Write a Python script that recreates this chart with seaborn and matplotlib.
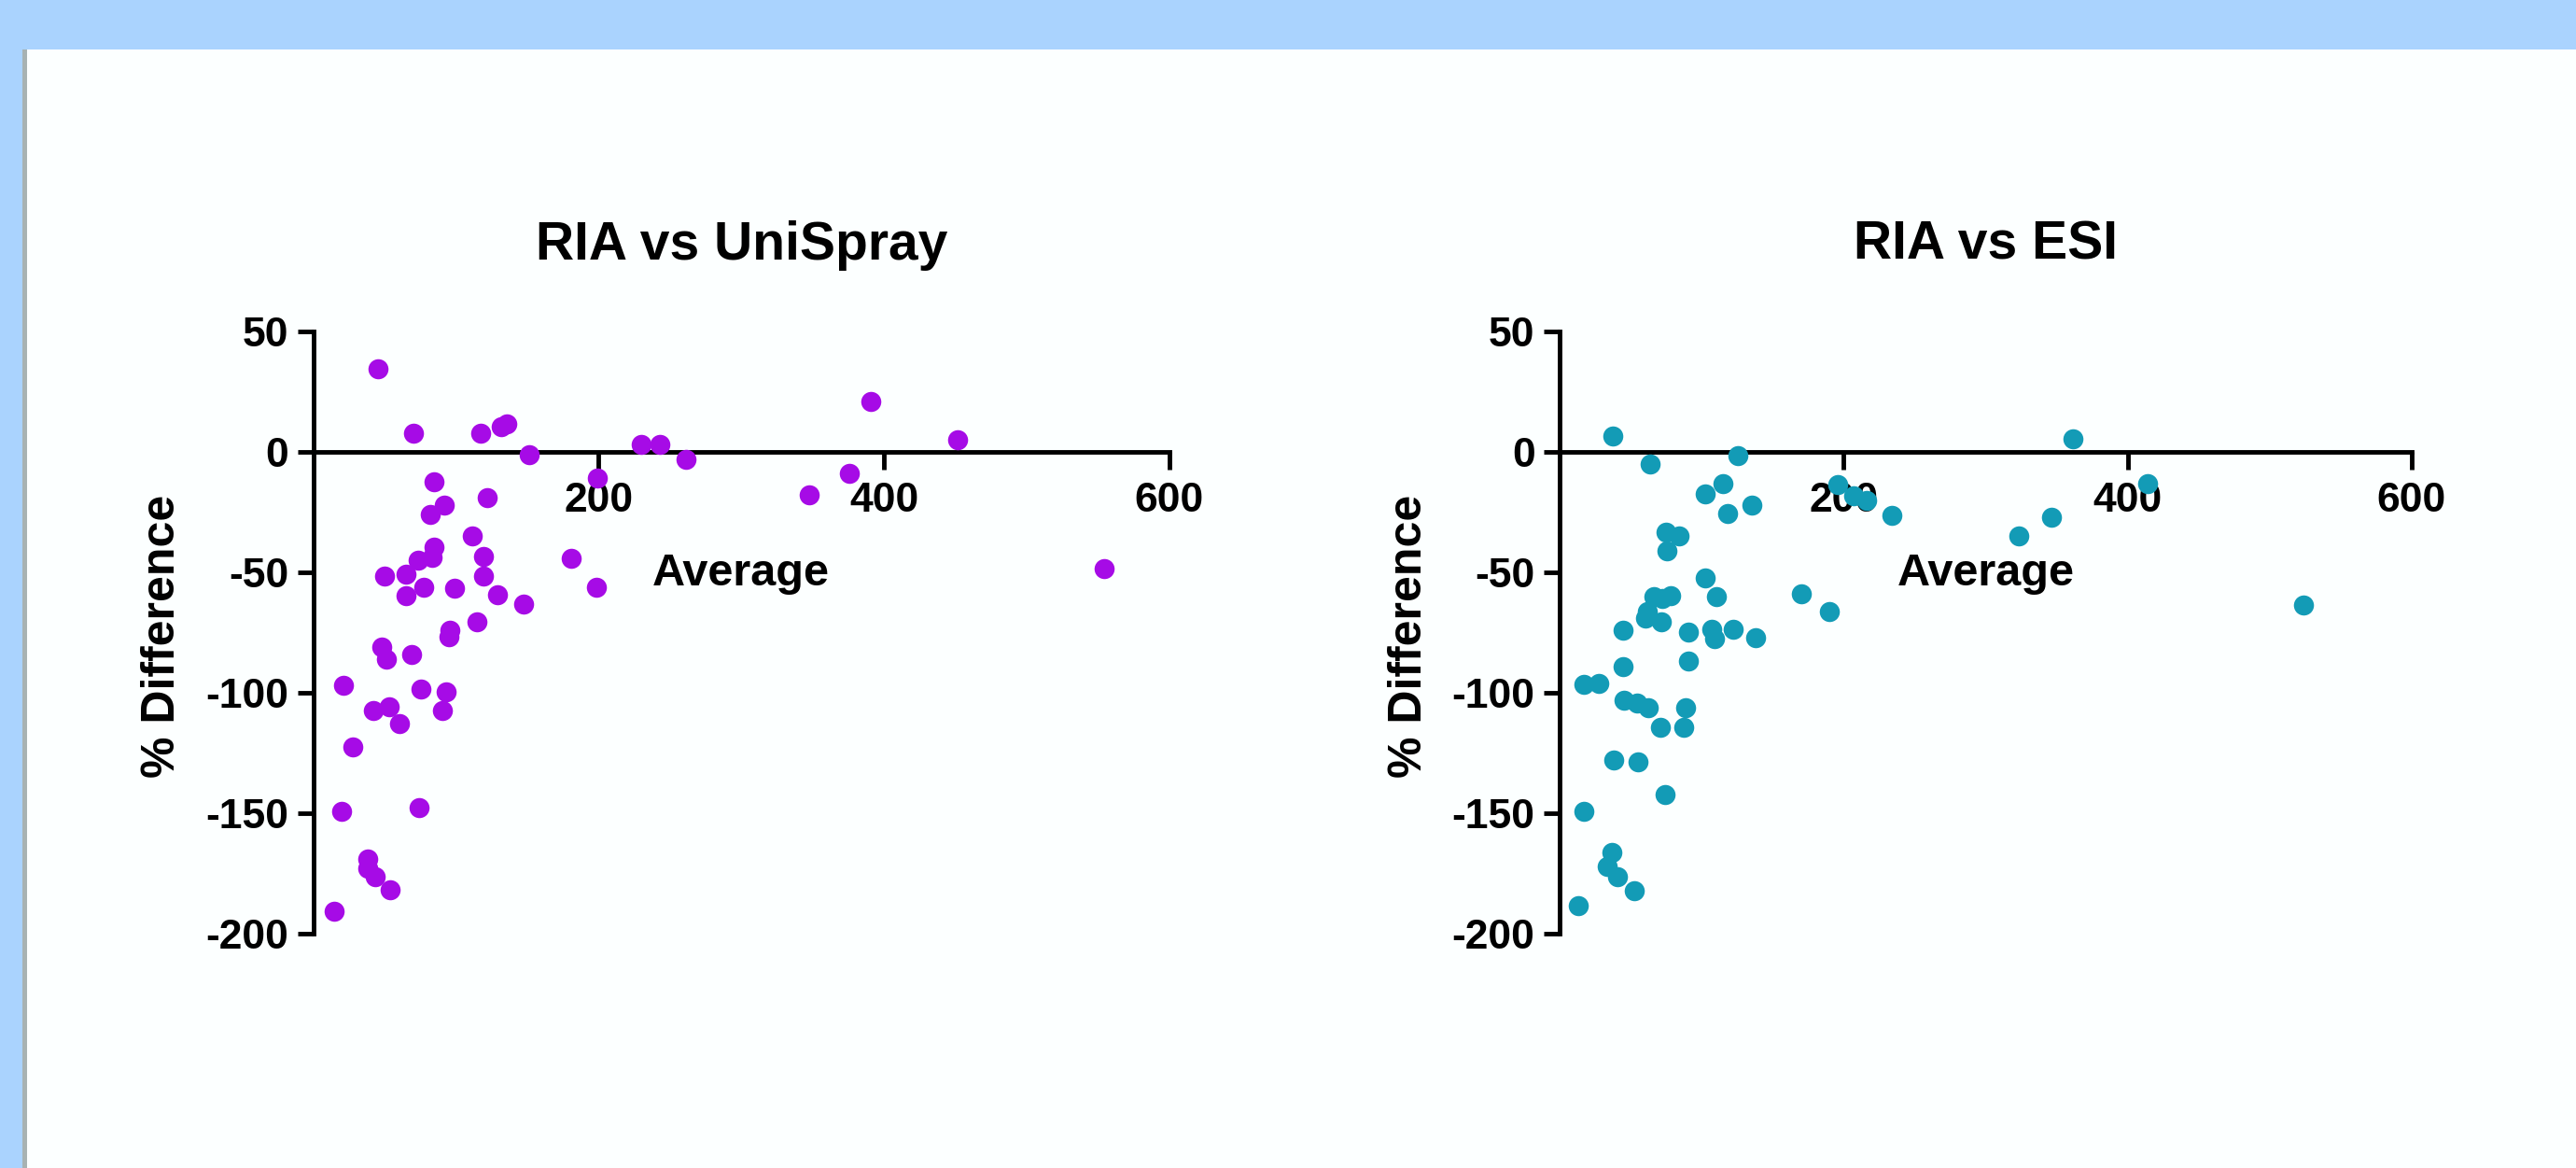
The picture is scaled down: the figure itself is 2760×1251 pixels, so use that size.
import matplotlib
matplotlib.use("Agg")
import matplotlib.pyplot as plt
import seaborn as sns
import pandas as pd
from matplotlib.patches import Rectangle

# ---------------- data ----------------
unispray_avg = [45.3, 70.1, 117.4, 131.4, 135.8, 151.2, 199.1, 230.0, 243.0, 261.3,
                390.7, 376.0, 347.4, 451.5, 554.3, 84.7, 122.0, 92.0, 82.3, 111.5,
                84.7, 83.2, 73.6, 119.1, 64.8, 50.2, 119.1, 77.4, 98.7, 64.8,
                129.0, 147.4, 181.0, 198.5, 114.5, 95.8, 94.9, 48.2, 51.1, 68.6,
                21.0, 75.3, 92.8, 42.3, 53.1, 90.5, 60.4, 27.7, 19.9, 73.9,
                38.0, 38.0, 43.2, 54.0, 14.6]
unispray_diff = [34.8, 7.8, 7.8, 10.4, 11.6, -0.9, -10.7, 3.1, 3.1, -2.9,
                 21.0, -8.7, -17.7, 5.1, -48.6, -12.5, -19.1, -22.0, -26.0, -34.7,
                 -39.3, -43.7, -44.9, -43.2, -50.6, -51.5, -51.5, -56.3, -56.7, -59.8,
                 -59.4, -63.3, -44.0, -56.2, -70.5, -74.0, -76.6, -80.9, -86.1, -84.0,
                 -97.0, -98.6, -99.7, -107.3, -106.0, -107.3, -113.0, -122.5, -149.4, -147.7,
                 -169.3, -172.8, -176.6, -182.0, -191.0]

esi_avg = [37.5, 63.7, 125.7, 102.4, 114.7, 118.3, 135.4, 196.0, 207.0, 216.5,
           234.2, 323.6, 346.3, 361.6, 414.2, 524.0, 74.9, 83.8, 75.8, 102.4,
           66.1, 77.9, 72.0, 110.3, 61.6, 60.2, 71.9, 44.5, 90.5, 107.4,
           109.4, 122.1, 138.3, 170.2, 190.0, 44.5, 90.5, 17.4, 27.7, 45.4,
           54.3, 62.5, 88.8, 71.1, 87.6, 38.1, 55.2, 74.0, 17.4, 36.6,
           33.6, 41.0, 52.8, 13.0]
esi_diff = [6.6, -5.0, -1.6, -17.2, -13.0, -25.5, -22.0, -13.3, -18.0, -19.9,
            -26.2, -34.7, -27.2, 5.7, -13.0, -63.7, -33.3, -35.0, -41.1, -52.3,
            -60.1, -59.8, -61.0, -60.1, -66.2, -68.8, -70.5, -74.0, -74.9, -73.7,
            -77.5, -73.7, -77.0, -58.9, -66.2, -89.1, -86.7, -96.5, -96.2, -103.1,
            -104.3, -106.1, -106.4, -114.4, -114.4, -128.1, -128.6, -142.5, -149.4, -166.4,
            -172.4, -176.6, -182.3, -188.4]

titles = ["RIA vs UniSpray", "RIA vs ESI"]
x_label = "Average"
y_label = "% Difference"
x_ticks = [200, 400, 600]
y_ticks = [-200, -150, -100, -50, 0, 50]
colors = ["#A60BE6", "#139BB6"]

# ---------------- style ----------------
sns.set_style("ticks")
plt.rcParams["font.family"] = ["Liberation Sans", "DejaVu Sans"]
plt.rcParams["font.weight"] = "bold"
plt.rcParams["axes.unicode_minus"] = False
plt.rcParams["text.color"] = "black"
plt.rcParams["axes.labelcolor"] = "black"

W, H = 2760, 1251
fig = plt.figure(figsize=(W / 100, H / 100), dpi=100, facecolor="#AAD3FE")
fig.patches.append(Rectangle((24 / W, 0), 1, (H - 53) / H, transform=fig.transFigure,
                             facecolor="#FCFFFF", edgecolor="none", zorder=-10))
fig.patches.append(Rectangle((24 / W, 0), 5 / W, (H - 53) / H, transform=fig.transFigure,
                             facecolor="#A7B2B2", edgecolor="none", zorder=-9))

ax_l = fig.add_axes([335.7 / W, 251.4 / H, 917 / W, 644.2 / H])
ax_r = fig.add_axes([1671 / W, 251.4 / H, 913 / W, 644.2 / H])

datasets = [(unispray_avg, unispray_diff), (esi_avg, esi_diff)]

for ax, (xs, ys), title, col in zip([ax_l, ax_r], datasets, titles, colors):
    df = pd.DataFrame({"Average": xs, "Diff": ys})
    ax.set_facecolor("none")
    ax.set_zorder(5)
    sns.scatterplot(data=df, x="Average", y="Diff", ax=ax, color=col, s=240,
                    linewidth=0, marker="o", zorder=3)
    ax.set_xlim(0, 600)
    ax.set_ylim(-200, 50)
    ax.spines["top"].set_visible(False)
    ax.spines["right"].set_visible(False)
    ax.spines["bottom"].set_position(("data", 0))
    for s in ["left", "bottom"]:
        ax.spines[s].set_linewidth(3.5)
        ax.spines[s].set_color("black")
    ax.set_xticks(x_ticks)
    ax.set_yticks(y_ticks)
    ax.tick_params(axis="x", length=14, width=3.5, pad=9, labelsize=32,
                   direction="out", colors="black")
    ax.tick_params(axis="y", length=12, width=3.5, pad=7, labelsize=32,
                   direction="out", colors="black")
    for lbl in ax.get_xticklabels() + ax.get_yticklabels():
        lbl.set_fontweight("bold")
    ax.set_xlabel(x_label, fontsize=35, fontweight="bold", color="black")
    ax.xaxis.set_label_coords(0.5, 0.5784)
    ax.xaxis.label.set_va("baseline")
    ax.set_ylabel(y_label, fontsize=36, fontweight="bold", color="black")
    ax.yaxis.set_label_coords(-0.176, 0.494)
    ax.yaxis.label.set_va("center")
    ax.set_title(title, fontsize=41, fontweight="bold", pad=56, color="black")

fig.savefig("out.png", dpi=100, facecolor=fig.get_facecolor())
